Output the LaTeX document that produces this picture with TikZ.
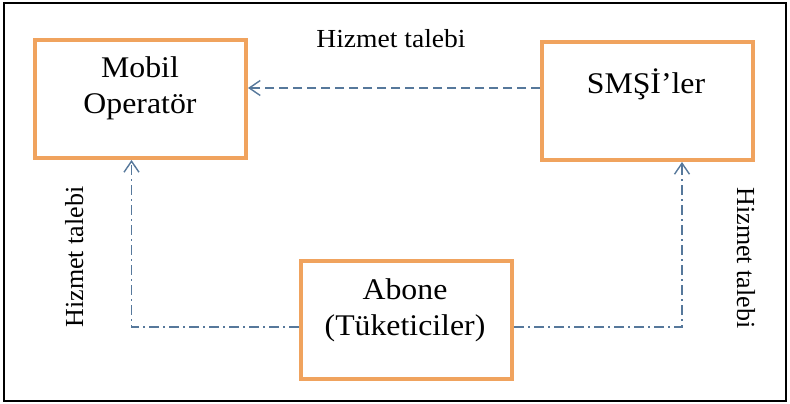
\documentclass[tikz,border=0pt]{standalone}
\usepackage{fontspec}
\setmainfont{Liberation Serif}
\newfontfamily\widefont{Liberation Serif}[FakeStretch=1.06]
\usetikzlibrary{arrows.meta}
\definecolor{boxorange}{HTML}{F0A35E}
\definecolor{arrowblue}{HTML}{56789B}
\begin{document}
\begin{tikzpicture}[x=1pt,y=-1pt,
  box/.style={draw=boxorange, line width=4pt, minimum width=211pt, minimum height=118pt, inner sep=0pt},
  boxtxt/.style={font=\widefont\fontsize{30}{36}\selectfont, align=center, inner sep=0pt},
  lbl/.style={font=\widefont\fontsize{26}{32}\selectfont, inner sep=0pt},
  vlbl/.style={font=\fontsize{26}{30}\selectfont, inner sep=0pt},
  flow/.style={draw=arrowblue, line width=1.4pt, -{Straight Barb[length=11pt,width=15pt,line width=1.4pt]}},
  req/.style={flow, dash pattern=on 9pt off 5pt},
  reqdd/.style={flow, dash pattern=on 10pt off 4pt on 2pt off 4pt}]
\useasboundingbox (0,0) rectangle (790,404);
\draw[line width=2pt] (4,3) rectangle (786,401);

\node[box] (mo) at (140.5,99) {};
\node[box] (sm) at (647.5,101) {};
\node[box] (ab) at (406.5,320) {};

\node[boxtxt] (motxt) at (140,88) {Mobil\\Operatör};
\node[boxtxt, anchor=base] (smtxt) at (646,93) {SMŞİ’ler};
\node[boxtxt] (abtxt) at (405,310) {Abone\\(Tüketiciler)};

\node[lbl, anchor=base] (toplbl) at (391,48) {Hizmet talebi};
\node[vlbl, rotate=90, anchor=base] (leftlbl) at (83,257) {Hizmet talebi};
\node[vlbl, rotate=-90, anchor=base] (rightlbl) at (737,258) {Hizmet talebi};

\draw[req] ([yshift=13pt]sm.west) -- ([yshift=11pt]mo.east);
\draw[reqdd] ([yshift=-7pt]ab.west) -| ([xshift=-9pt]mo.south);
\draw[reqdd] ([yshift=-7pt]ab.east) -| ([xshift=34.5pt]sm.south);
\end{tikzpicture}
\end{document}
